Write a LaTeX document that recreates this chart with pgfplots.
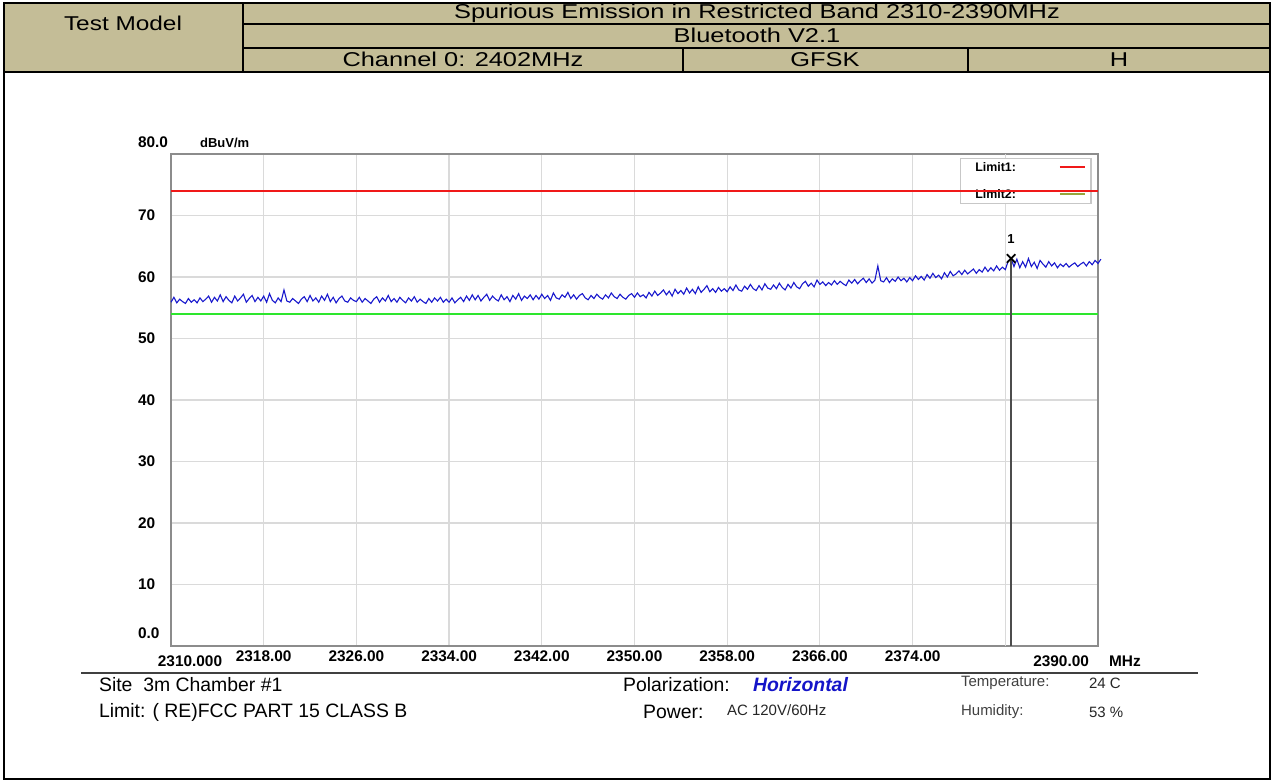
\documentclass[border=0pt]{standalone}
\usepackage{pgfplots}
\pgfplotsset{compat=1.18}
\usepackage{pgfplotstable}
\usepackage{fontspec}
\setmainfont{Liberation Sans}
\definecolor{hdr}{RGB}{196,189,151}
\definecolor{gridc}{RGB}{218,218,218}
\definecolor{framec}{RGB}{140,140,140}
\definecolor{tracec}{RGB}{25,25,205}
\definecolor{limred}{RGB}{240,25,25}
\definecolor{limgreen}{RGB}{45,230,45}
\definecolor{limolive}{RGB}{150,165,60}
\definecolor{polblue}{RGB}{20,20,200}

\pgfplotstableread{
y
55.9
56.7
55.8
56.4
56.0
55.7
56.5
55.9
56.3
55.8
56.6
56.0
56.4
56.9
55.9
56.7
56.1
57.1
56.0
56.8
56.2
55.8
56.9
56.1
56.6
57.2
55.9
56.5
57.0
56.0
56.7
56.1
56.9
55.9
57.3
56.2
55.8
56.6
56.0
57.9
56.1
55.9
56.5
56.1
55.7
56.4
56.8
56.0
57.0
56.1
56.6
55.9
56.9
56.2
57.2
56.0
56.7
55.8
56.5
56.9
56.1
55.9
56.6
56.2
56.0
56.7
55.9
56.5
56.1
55.7
56.4
56.8
55.9
56.6
56.1
57.0
56.0
56.5
55.9
56.7
56.2
55.8
56.6
56.1
56.8
55.9
56.4
56.0
55.7
56.5
55.9
56.6
56.1
56.7
55.9
56.4
55.9
56.6
55.8
56.3
56.7
56.0
56.9
56.2
57.1
56.3
57.0
56.1
56.7
57.2
56.2
56.9
56.4
56.1
57.1
56.3
56.8
56.0
57.0
56.4
57.3
56.2
56.9
56.5
57.1
56.3
57.0
56.4
57.2
56.5
57.0
56.2
57.4
56.6
56.4
57.1
56.7
57.5
56.5
57.1
56.4
57.0
57.3
56.6
56.3
57.0
56.5
57.2
56.7
56.4
57.1
56.6
57.4
56.8
56.5
57.2
56.7
56.4
57.0
57.3
56.7
57.4
56.8
57.1
56.6
57.5
56.9
57.7
57.0
57.4
57.9
57.1
57.7
56.9
58.0
57.3
57.8
57.2
58.2
57.4
58.0
57.3
58.4
57.5
58.0
58.6
57.6
58.1
57.5
58.3
57.7
58.1
57.6
58.4
57.8
58.7
57.9
57.7
58.5
58.0
58.8
58.1
57.8
58.6
57.9
58.9
58.2
58.0
58.7
58.1
59.0
58.3
57.9
58.8
58.2
59.1
58.4
58.1
58.9
59.3
58.5
59.0
58.4
59.5
58.8
59.2
58.6
59.1
58.7
59.4
58.8
59.3
58.9
58.6
59.5
59.0
59.6
58.9
59.4
59.8
59.1
59.7
59.0
59.5
61.8
59.4
59.2
59.9
59.1
59.7
59.3
60.0
59.4
59.8
59.2
59.9
59.4
60.2
59.6
60.1
59.5
60.4
59.8
60.6
59.9
60.3
59.7
60.7
60.0
60.9
60.2
60.5
61.0
60.4
61.1
60.5
60.9
61.3
60.6
61.2
60.8
61.6
60.9
61.5
61.0
61.8
61.1
61.6
61.2
62.6
63.0
61.7
62.9
61.5
62.5
61.6
63.0
61.7
62.4
61.4
62.7
62.1
61.6
62.5
61.8
62.3
61.5
62.1
61.7
62.2
61.6
62.0
62.3
61.7
62.1
62.4
61.8
62.5
62.0
62.7
62.2
62.9
}\tracedata

\begin{document}
\begin{tikzpicture}
\begin{scope}[x=0.5pt,y=-0.5pt]
\useasboundingbox (0,0) rectangle (1273,781);
% header table
\fill[hdr] (4,3) rectangle (1270,72);
\draw[line width=1pt] (4,3) rectangle (1270,72);
\draw[line width=1pt] (243,3) -- (243,72);
\draw[line width=1pt] (243,24) -- (1270,24) (243,48) -- (1270,48)
   (683,48) -- (683,72) (968,48) -- (968,72);
\draw[line width=1pt] (4,72) -- (4,779) -- (1270,779) -- (1270,72);
\begin{scope}[every node/.style={anchor=base, inner sep=0pt, font=\fontsize{10}{12}\selectfont}]
\node at (123,31) {\scalebox{1.22}[1]{Test Model}};
\node at (757,19) {\scalebox{1.27}[1]{Spurious Emission in Restricted Band 2310-2390MHz}};
\node at (757,43) {\scalebox{1.27}[1]{Bluetooth V2.1}};
\node at (463,67) {\scalebox{1.27}[1]{Channel 0: 2402MHz}};
\node at (825,67) {\scalebox{1.27}[1]{GFSK}};
\node at (1119,67) {\scalebox{1.27}[1]{H}};
\end{scope}
% separator under axis
\draw[line width=1pt, black!75] (81,673) -- (1198,673);
% bottom info
\begin{scope}[font=\fontsize{9.7}{12}\selectfont]
\node[anchor=west] at (92,685) {Site\ \ 3m Chamber \#1};
\node[anchor=west] at (92,712) {Limit: ( RE)FCC PART 15 CLASS B};
\node[anchor=west] at (616,685) {Polarization:};
\node[anchor=west, text=polblue, font=\fontsize{9.7}{12}\selectfont\bfseries\itshape] at (746,685) {Horizontal};
\node[anchor=west] at (636,712) {Power:};
\end{scope}
\begin{scope}[font=\fontsize{7.5}{9}\selectfont]
\node[anchor=west, text=black!85] at (720,710) {AC 120V/60Hz};
\node[anchor=west, text=black!75] at (954,683) {Temperature:};
\node[anchor=west, text=black!85] at (1082,683) {24 C};
\node[anchor=west, text=black!75] at (954,712) {Humidity:};
\node[anchor=west, text=black!85] at (1082,712) {53 \%};
\end{scope}
\end{scope}

\begin{axis}[
  at={(85.5pt,-323pt)}, anchor=south west, scale only axis,
  width=463.5pt, height=246pt,
  xmin=2310, xmax=2390, ymin=0, ymax=80,
  xtick={2318,2326,2334,2342,2350,2358,2366,2374},
  xticklabels={2318.00,2326.00,2334.00,2342.00,2350.00,2358.00,2366.00,2374.00},
  extra x ticks={2382}, extra x tick labels={},
  ytick={10,20,30,40,50,60,70},
  yticklabels={10,20,30,40,50,60,70},
  grid=major, major grid style={gridc, line width=0.6pt},
  extra tick style={grid=major},
  axis line style={framec, line width=1pt},
  tick style={draw=none},
  tick label style={font=\fontsize{7.7}{9}\selectfont\bfseries},
  xticklabel style={yshift=1pt},
  yticklabel style={anchor=west, xshift=-20pt},
  clip=false,
]
% legend box
\draw[black!22, fill=white, line width=0.6pt] (axis cs:2378.1,79.3) rectangle (axis cs:2389.4,71.9);
\node[anchor=west, font=\fontsize{6.2}{7}\selectfont\bfseries] at (axis cs:2378.8,77.9) {Limit1:};
\node[anchor=west, font=\fontsize{6.2}{7}\selectfont\bfseries] at (axis cs:2378.8,73.5) {Limit2:};
\draw[limred, line width=1pt] (axis cs:2386.7,77.9) -- (axis cs:2388.9,77.9);
\draw[limolive, line width=1pt] (axis cs:2386.7,73.5) -- (axis cs:2388.9,73.5);
% limits
\addplot[limred, line width=1.1pt] coordinates {(2310,74) (2390,74)};
\addplot[limgreen, line width=1.1pt] coordinates {(2310,54) (2390,54)};
% trace
\addplot[tracec, line width=0.55pt] table[x expr=2310+0.25*\coordindex, y=y] {\tracedata};
% marker
\addplot[black!70, line width=0.9pt] coordinates {(2382.5,0) (2382.5,63.0)};
\addplot[only marks, mark=x, mark size=3pt, black, line width=0.9pt] coordinates {(2382.5,63.0)};
\node[font=\fontsize{6.5}{7}\selectfont\bfseries, anchor=south] at (axis cs:2382.5,64.3) {1};
% special labels
\node[anchor=west, font=\fontsize{7.7}{9}\selectfont\bfseries] at ([xshift=-20pt,yshift=6pt]axis cs:2310,80) {80.0};
\node[anchor=west, font=\fontsize{7.7}{9}\selectfont\bfseries] at ([xshift=-20pt,yshift=6.5pt]axis cs:2310,0) {0.0};
\node[anchor=west, font=\fontsize{6.5}{8}\selectfont\bfseries] at ([xshift=11pt,yshift=5.5pt]axis cs:2310,80) {dBuV/m};
\node[anchor=north, font=\fontsize{7.7}{9}\selectfont\bfseries] at ([xshift=9.5pt,yshift=-1.5pt]axis cs:2310,0) {2310.000};
\node[anchor=north east, font=\fontsize{7.7}{9}\selectfont\bfseries] at ([xshift=-1pt,yshift=-1.5pt]axis cs:2390,0) {2390.00};
\node[anchor=north west, font=\fontsize{7.7}{9}\selectfont\bfseries] at ([xshift=2pt,yshift=-1.5pt]axis cs:2390,0) {MHz};
\end{axis}
\end{tikzpicture}
\end{document}
